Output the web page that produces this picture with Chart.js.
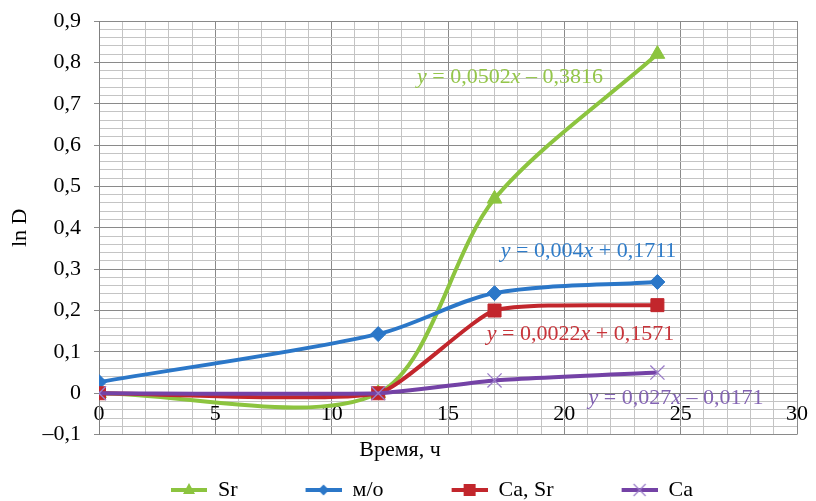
<!DOCTYPE html>
<html>
<head>
<meta charset="utf-8">
<script src="https://cdn.jsdelivr.net/npm/chart.js@4.4.1/dist/chart.umd.min.js"></script>
<style>
  html, body { margin: 0; padding: 0; background: #fff; }
  #wrap { width: 816px; height: 501px; }
</style>
</head>
<body>
<div id="wrap"><canvas id="lnChart"></canvas></div>
<script>
// values
const time_h = [0, 12, 17, 24];
const sr_values = [0, 0, 0.47, 0.82];
const mo_values = [0.027, 0.143, 0.242, 0.269];
const ca_sr_values = [0, 0, 0.2, 0.213];
const ca_values = [0, 0, 0.031, 0.05];
const series_names = ["Sr", "м/о", "Ca, Sr", "Ca"];
const trend_coefs = [["0,0502", "–", "0,3816"], ["0,004", "+", "0,1711"], ["0,0022", "+", "0,1571"], ["0,027", "–", "0,0171"]];

const colors = ["#8cc43f", "#2b77c8", "#c2262c", "#7442a6"];
const marker_colors = ["#8cc43f", "#2b77c8", "#c2262c", "#9a7cc8"];
const text_colors = ["#94c64a", "#2f7cc9", "#c8343a", "#8363b3"];
const serif = "'Liberation Serif', 'Times New Roman', serif";

// where the trend equations sit (data units, left edge / middle)
const trend_pos = [
  { x: 13.67, y: 0.764 },
  { x: 17.27, y: 0.344 },
  { x: 16.67, y: 0.143 },
  { x: 21.04, y: -0.012 },
];

const isMultiple = (v, step) => Math.abs(Math.round(v / step) * step - v) < 1e-6;

const pts = (ys) => time_h.map((t, i) => ({ x: t, y: ys[i] }));

// legend icon: line with the marker in the middle, blank space on the left acts as spacing
const legendIcon = (idx) => {
  const gap = 64, w = 36;
  const c = document.createElement("canvas");
  c.width = gap + w; c.height = 18;
  const g = c.getContext("2d");
  const cx = gap + w / 2, cy = 9;
  g.strokeStyle = colors[idx]; g.lineWidth = 4;
  g.beginPath(); g.moveTo(gap, cy); g.lineTo(gap + w, cy); g.stroke();
  g.fillStyle = marker_colors[idx]; g.strokeStyle = marker_colors[idx];
  g.beginPath();
  if (idx === 0) { g.moveTo(cx, cy - 7); g.lineTo(cx + 6, cy + 4); g.lineTo(cx - 6, cy + 4); g.closePath(); g.fill(); }
  if (idx === 1) { g.moveTo(cx, cy - 5.5); g.lineTo(cx + 5.5, cy); g.lineTo(cx, cy + 5.5); g.lineTo(cx - 5.5, cy); g.closePath(); g.fill(); }
  if (idx === 2) { g.fillRect(cx - 6, cy - 6, 12, 12); }
  if (idx === 3) { g.lineWidth = 1.2; g.moveTo(cx - 6, cy - 6); g.lineTo(cx + 6, cy + 6); g.moveTo(cx + 6, cy - 6); g.lineTo(cx - 6, cy + 6); g.stroke(); }
  return c;
};
const legend_icons = [0, 1, 2, 3].map(legendIcon);

const trendLabels = {
  id: "trendLabels",
  afterDatasetsDraw(chart) {
    const ctx = chart.ctx;
    const xs = chart.scales.x, ys = chart.scales.y;
    ctx.save();
    ctx.textBaseline = "middle";
    ctx.textAlign = "left";
    trend_coefs.forEach((c, i) => {
      let px = xs.getPixelForValue(trend_pos[i].x);
      const py = ys.getPixelForValue(trend_pos[i].y);
      const parts = [["y", true], [" = " + c[0], false], ["x", true], [" " + c[1] + " " + c[2], false]];
      ctx.fillStyle = text_colors[i];
      parts.forEach(([s, it]) => {
        ctx.font = (it ? "italic " : "") + "22px " + serif;
        ctx.fillText(s, px, py);
        px += ctx.measureText(s).width;
      });
    });
    ctx.restore();
  },
};

const lineSet = (idx, ys, style, radius, bw, tension) => ({
  label: series_names[idx],
  data: pts(ys),
  borderColor: colors[idx],
  backgroundColor: marker_colors[idx],
  pointBackgroundColor: marker_colors[idx],
  pointBorderColor: marker_colors[idx],
  borderWidth: 4,
  tension: tension,
  pointStyle: style,
  pointRadius: radius,
  pointBorderWidth: bw,
  order: 4 - idx,
});

const chart = new Chart(document.getElementById("lnChart"), {
  type: "line",
  data: {
    datasets: [
      lineSet(0, sr_values, "triangle", 8.5, 1, 0.3),
      lineSet(1, mo_values, "rectRot", 7.5, 1, 0.3),
      lineSet(2, ca_sr_values, "rect", 9.2, 1, 0.17),
      lineSet(3, ca_values, "crossRot", 10, 1.3, 0.15),
    ],
  },
  options: {
    responsive: true,
    maintainAspectRatio: false,
    animation: false,
    layout: { padding: { left: 0, right: 16, top: 21, bottom: 0 } },
    scales: {
      x: {
        type: "linear",
        position: { y: 0 },
        min: 0,
        max: 30,
        ticks: {
          stepSize: 1,
          autoSkip: false,
          maxRotation: 0,
          maxTicksLimit: 1000,
          padding: 8,
          color: "#000",
          font: { family: serif, size: 22 },
          callback: (v) => (isMultiple(v, 5) ? String(v) : ""),
        },
        grid: {
          drawTicks: false,
          color: (c) => (isMultiple(c.tick.value, 5) ? "#8a8a8a" : "#c4c4c4"),
        },
        border: { color: "#808080" },
      },
      y: {
        min: -0.1,
        max: 0.9,
        afterFit: (s) => {
          s.width = 99;
          s.paddingTop = 0;
          s.paddingBottom = 0;
        },
        ticks: {
          stepSize: 0.02,
          autoSkip: false,
          maxTicksLimit: 1000,
          padding: 13,
          color: "#000",
          font: { family: serif, size: 22 },
          callback: (v) => {
            if (!isMultiple(v, 0.1)) return "";
            if (Math.abs(v) < 1e-9) return "0";
            const s = Math.abs(v).toFixed(1).replace(".", ",");
            return v < 0 ? "–" + s : s;
          },
        },
        grid: {
          tickLength: 5,
          color: (c) => (isMultiple(c.tick.value, 0.1) ? "#8a8a8a" : "#c4c4c4"),
          tickColor: (c) => (isMultiple(c.tick.value, 0.1) ? "#8a8a8a" : "rgba(0,0,0,0)"),
        },
        border: { color: "#808080" },
        title: {
          display: true,
          text: "ln D",
          color: "#000",
          padding: { top: 7, bottom: 0 },
          font: { family: serif, size: 22 },
        },
      },
    },
    plugins: {
      tooltip: { enabled: false },
      title: {
        display: true,
        position: "bottom",
        weight: 500,
        text: "Время, ч",
        color: "#000",
        padding: { top: 2, bottom: 12 },
        font: { family: serif, size: 22, weight: "normal" },
      },
      legend: {
        position: "bottom",
        maxHeight: 26,
        labels: {
          usePointStyle: true,
          pointStyleWidth: 100,
          padding: 4,
          color: "#000",
          font: { family: serif, size: 22 },
          generateLabels: () =>
            series_names.map((n, i) => ({
              text: n,
              pointStyle: legend_icons[i],
              fillStyle: colors[i],
              strokeStyle: colors[i],
              lineWidth: 0,
              datasetIndex: i,
              hidden: false,
            })),
        },
      },
    },
  },
  plugins: [trendLabels],
});
</script>
</body>
</html>
